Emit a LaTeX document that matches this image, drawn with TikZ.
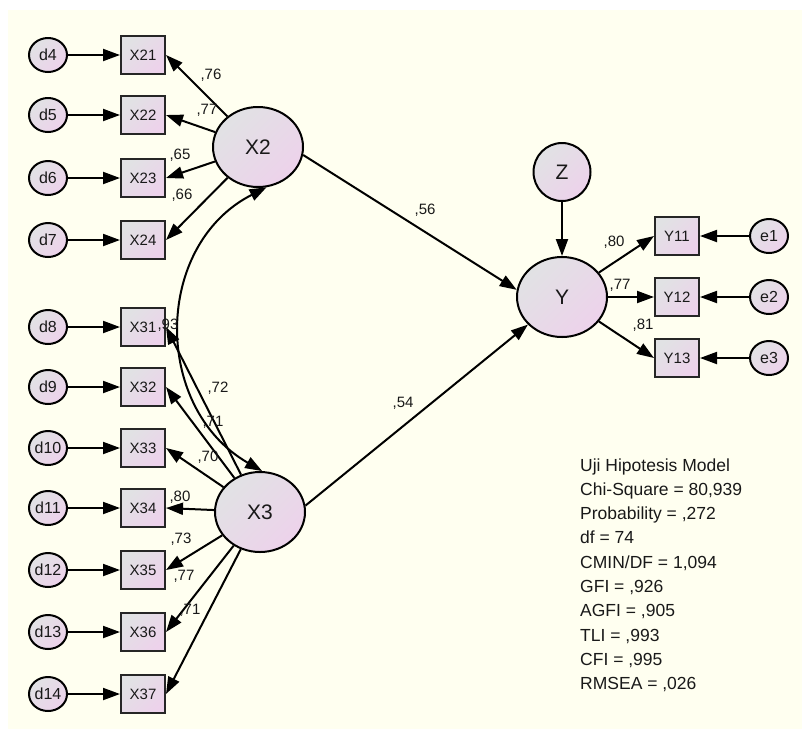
\documentclass[tikz,border=0pt]{standalone}
\usepackage{fontspec}
\setmainfont{Liberation Sans}
\usetikzlibrary{arrows.meta,shapes.geometric}
\definecolor{bgc}{RGB}{255,255,240}
\definecolor{gA}{RGB}{225,226,228}
\definecolor{pA}{RGB}{237,210,235}
\definecolor{txt}{RGB}{25,25,25}
\begin{document}
\begin{tikzpicture}[x=1pt,y=-1pt,
  every node/.style={text=txt},
  obs/.style={draw=black!85, line width=2pt, minimum width=44pt, minimum height=38pt, inner sep=0pt,
    top color=gA, bottom color=pA, shading angle=45, font=\fontsize{15}{15}\selectfont},
  lat/.style={ellipse, draw=black, line width=2pt, minimum width=90pt, minimum height=80pt, inner sep=0pt,
    top color=gA, bottom color=pA, shading angle=45, font=\fontsize{21}{21}\selectfont},
  err/.style={ellipse, draw=black, line width=2pt, minimum width=38pt, minimum height=34pt, inner sep=0pt,
    top color=gA, bottom color=pA, shading angle=45, font=\fontsize{16}{16}\selectfont},
  zc/.style={ellipse, draw=black, line width=2pt, minimum width=57pt, minimum height=58pt, inner sep=0pt,
    top color=gA, bottom color=pA, shading angle=45, font=\fontsize{21}{21}\selectfont},
  arr/.style={line width=2pt, -{Triangle[length=17pt,width=12pt]}},
  barr/.style={line width=2pt, {Triangle[length=17pt,width=12pt]}-{Triangle[length=17pt,width=12pt]}},
  lbl/.style={font=\fontsize{15}{15}\selectfont, inner sep=0pt},
  fitl/.style={font=\fontsize{17.5}{17.5}\selectfont, inner sep=0pt, anchor=base west}]
\useasboundingbox (0,0) rectangle (802,729);
\fill[white] (0,0) rectangle (802,729);
\fill[bgc] (8,10) rectangle (802,729);

% latent variables
\node[lat] (X2) at (258,147) {X2};
\node[lat] (X3) at (260,512) {X3};
\node[lat] (Y) at (562,297) {Y};
\node[zc] (Z) at (562,172) {Z};

% indicators and errors
\foreach \n/\yy in {21/55,22/115,23/178,24/240}{
  \node[obs] (X\n) at (143,\yy) {X\n};
}
\foreach \n/\yy in {4/55,5/115,6/178,7/240,8/327,9/387,10/448,11/508,12/570,13/632,14/694}{
  \node[err] (d\n) at (48,\yy) {d\n};
}
\foreach \n/\yy in {31/327,32/387,33/448,34/508,35/570,36/632,37/694}{
  \node[obs] (X\n) at (143,\yy) {X\n};
}
\foreach \n/\yy in {11/236,12/297,13/358}{
  \node[obs] (Y\n) at (677,\yy) {Y\n};
}
\foreach \n/\yy in {1/236,2/297,3/358}{
  \node[err] (e\n) at (769,\yy) {e\n};
}

% error arrows
\foreach \a/\b in {4/21,5/22,6/23,7/24,8/31,9/32,10/33,11/34,12/35,13/36,14/37}{
  \draw[arr] (d\a) -- (X\b);
}
\foreach \a/\b in {1/11,2/12,3/13}{
  \draw[arr] (e\a) -- (Y\b);
}

% loadings
\foreach \b in {21,22,23,24}{
  \draw[arr] (X2) -- (X\b.east);
}
\foreach \b in {31,32,33,34,35,36,37}{
  \draw[arr] (X3) -- (X\b.east);
}
\foreach \b in {11,12,13}{
  \draw[arr] (Y) -- (Y\b.west);
}

% structural paths
\draw[arr] (X2.-10) -- (Y.171);
\draw[arr] (X3.8) -- (Y.219);
\draw[arr] (Z) -- (Y);

% covariance
\draw[barr] (X2.-78) .. controls +(153:127) and +(210:127) .. (X3.87);

% path labels
\node[lbl] (l76) at (211,75) {,76};
\node[lbl] (l77a) at (207,110) {,77};
\node[lbl] (l65) at (180,155) {,65};
\node[lbl] (l66) at (182,195) {,66};
\node[lbl] (l56) at (425,210) {,56};
\node[lbl] (l54) at (403,403) {,54};
\node[lbl] (l93) at (168,325) {,93};
\node[lbl] (l72) at (218,388) {,72};
\node[lbl] (l71a) at (213,422) {,71};
\node[lbl] (l70) at (208,457) {,70};
\node[lbl] (l80a) at (180,497) {,80};
\node[lbl] (l73) at (181,539) {,73};
\node[lbl] (l77b) at (184,576) {,77};
\node[lbl] (l71b) at (190,610) {,71};
\node[lbl] (l80b) at (614,242) {,80};
\node[lbl] (l77c) at (620,285) {,77};
\node[lbl] (l81) at (643,325) {,81};

% fit statistics
\node[fitl] (t1) at (580,471) {Uji Hipotesis Model};
\node[fitl] (t2) at (580,495.3) {Chi-Square = 80,939};
\node[fitl] (t3) at (580,519.6) {Probability = ,272};
\node[fitl] (t4) at (580,543.9) {df = 74};
\node[fitl] (t5) at (580,568.2) {CMIN/DF = 1,094};
\node[fitl] (t6) at (580,592.5) {GFI = ,926};
\node[fitl] (t7) at (580,616.8) {AGFI = ,905};
\node[fitl] (t8) at (580,641.1) {TLI = ,993};
\node[fitl] (t9) at (580,665.4) {CFI = ,995};
\node[fitl] (t10) at (580,689.7) {RMSEA = ,026};
\end{tikzpicture}
\end{document}
